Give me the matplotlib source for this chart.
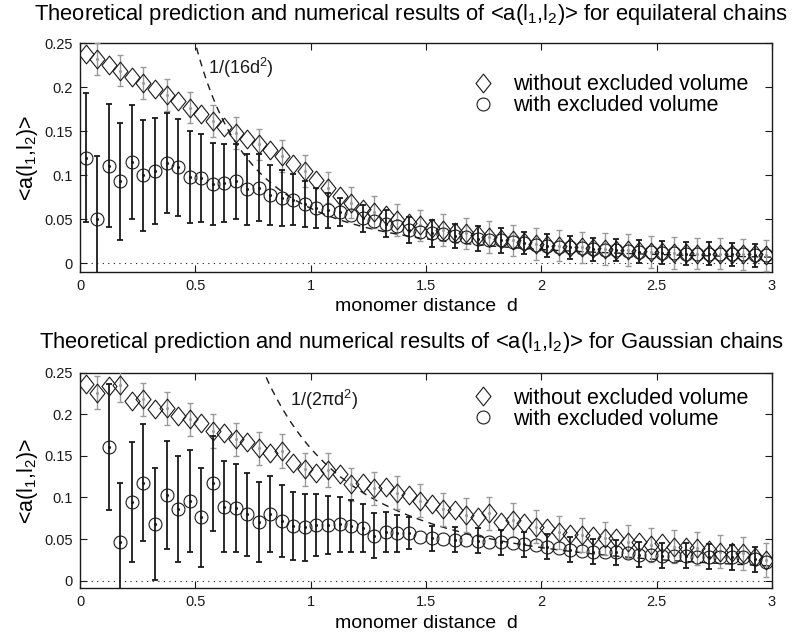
import numpy as np
import matplotlib
matplotlib.use('Agg')
import matplotlib.pyplot as plt
from matplotlib.path import Path
from matplotlib.lines import Line2D

plt.rcParams['font.family'] = ['Liberation Sans', 'DejaVu Sans']
plt.rcParams['mathtext.fontset'] = 'custom'
plt.rcParams['mathtext.rm'] = 'Liberation Sans'
plt.rcParams['mathtext.it'] = 'Liberation Sans:italic'
plt.rcParams['mathtext.default'] = 'regular'

# ---------------- data ----------------
d = np.round(np.arange(60) * 0.05 + 0.025, 3)   # monomer distance grid

# equilateral chains
eq_without = [0.238, 0.232, 0.225, 0.219, 0.212, 0.205, 0.198, 0.191, 0.184, 0.177,
              0.170, 0.162, 0.155, 0.148, 0.141, 0.135, 0.129, 0.122, 0.113, 0.105,
              0.095, 0.086, 0.077, 0.069, 0.062, 0.058, 0.055, 0.049, 0.046, 0.043,
              0.040, 0.038, 0.036, 0.034, 0.032, 0.030, 0.028, 0.026, 0.024, 0.022,
              0.021, 0.020, 0.019, 0.018, 0.017, 0.016, 0.015, 0.015, 0.014, 0.013,
              0.013, 0.012, 0.012, 0.011, 0.011, 0.011, 0.010, 0.010, 0.010, 0.009]
eq_without_err = [0.018] * 60
eq_with = [0.120, 0.050, 0.111, 0.093, 0.115, 0.100, 0.105, 0.114, 0.109, 0.098,
           0.097, 0.090, 0.091, 0.093, 0.084, 0.086, 0.078, 0.074, 0.072, 0.067,
           0.063, 0.060, 0.058, 0.055, 0.051, 0.048, 0.045, 0.042, 0.038, 0.036,
           0.034, 0.033, 0.031, 0.030, 0.028, 0.027, 0.026, 0.024, 0.023, 0.021,
           0.020, 0.019, 0.018, 0.017, 0.016, 0.015, 0.015, 0.014, 0.013, 0.013,
           0.012, 0.012, 0.011, 0.011, 0.011, 0.010, 0.010, 0.010, 0.009, 0.009]
eq_with_err = [0.073, 0.072, 0.070, 0.067, 0.065, 0.063, 0.060, 0.057, 0.055, 0.052,
               0.050, 0.047, 0.044, 0.043, 0.040, 0.038, 0.034, 0.032, 0.029, 0.026,
               0.023, 0.020, 0.016, 0.015, 0.015, 0.015, 0.015, 0.015, 0.015, 0.015,
               0.015, 0.014, 0.014, 0.014, 0.014, 0.014, 0.014, 0.014, 0.013, 0.013,
               0.013, 0.013, 0.013, 0.013, 0.013, 0.013, 0.013, 0.013, 0.013, 0.013,
               0.013, 0.013, 0.013, 0.013, 0.013, 0.013, 0.013, 0.013, 0.013, 0.013]

# Gaussian chains
ga_without = [0.236, 0.226, 0.234, 0.235, 0.216, 0.218, 0.206, 0.207, 0.198, 0.194,
              0.190, 0.180, 0.178, 0.170, 0.167, 0.159, 0.153, 0.156, 0.141, 0.134,
              0.130, 0.133, 0.128, 0.116, 0.118, 0.111, 0.113, 0.106, 0.103, 0.096,
              0.092, 0.086, 0.085, 0.079, 0.077, 0.081, 0.071, 0.073, 0.069, 0.065,
              0.063, 0.058, 0.056, 0.055, 0.054, 0.051, 0.051, 0.047, 0.047, 0.043,
              0.045, 0.041, 0.041, 0.039, 0.037, 0.035, 0.035, 0.033, 0.029, 0.025]
ga_without_err = [0.020] * 60
ga_with = [np.nan, np.nan, 0.161, 0.047, 0.095, 0.118, 0.068, 0.103, 0.086, 0.096,
           0.076, 0.117, 0.089, 0.087, 0.080, 0.071, 0.080, 0.072, 0.066, 0.064,
           0.067, 0.067, 0.068, 0.066, 0.063, 0.054, 0.059, 0.057, 0.057, 0.052,
           0.051, 0.050, 0.049, 0.049, 0.048, 0.047, 0.046, 0.045, 0.044, 0.043,
           0.041, 0.039, 0.037, 0.036, 0.035, 0.035, 0.034, 0.033, 0.031, 0.031,
           0.030, 0.030, 0.030, 0.029, 0.029, 0.029, 0.028, 0.028, 0.026, 0.023]
ga_with_err = [np.nan, np.nan, 0.076, 0.070, 0.072, 0.070, 0.067, 0.065, 0.064, 0.061,
               0.059, 0.057, 0.055, 0.053, 0.050, 0.048, 0.046, 0.043, 0.041, 0.040,
               0.037, 0.035, 0.033, 0.031, 0.029, 0.027, 0.024, 0.022, 0.019, 0.017,
               0.015, 0.015, 0.015, 0.015, 0.015, 0.015, 0.015, 0.015, 0.015, 0.015,
               0.015, 0.015, 0.015, 0.015, 0.015, 0.015, 0.015, 0.015, 0.015, 0.015,
               0.015, 0.015, 0.015, 0.015, 0.015, 0.015, 0.015, 0.015, 0.015, 0.015]

x_ticks = [0, 0.5, 1, 1.5, 2, 2.5, 3]
x_ticklabels = ['0', '0.5', '1', '1.5', '2', '2.5', '3']
y_ticks = [0, 0.05, 0.1, 0.15, 0.2, 0.25]
y_ticklabels = ['0', '0.05', '0.1', '0.15', '0.2', '0.25']

titles = [r'Theoretical prediction and numerical results of <a(l$_1$,l$_2$)> for equilateral chains',
          r'Theoretical prediction and numerical results of <a(l$_1$,l$_2$)> for Gaussian chains']
theory_labels = [r'1/(16d$^2$)', r'1/(2πd$^2$)']
theory_coef = [16.0, 2 * np.pi]
legend_labels = ['without excluded volume', 'with excluded volume']

# ---------------- styling ----------------
diamond = Path([(0, 1), (0.8, 0), (0, -1), (-0.8, 0), (0, 1)],
               [Path.MOVETO, Path.LINETO, Path.LINETO, Path.LINETO, Path.CLOSEPOLY])
BLACK = '#1a1a1a'
GRAY = '#9a9a9a'
DMS = 13.5   # diamond marker size
CMS = 9.3    # circle marker size

fig = plt.figure(figsize=(7.94, 6.39), dpi=100)
ax1 = fig.add_axes([0.1008, 0.5748, 0.8715, 0.3574])
ax2 = fig.add_axes([0.1008, 0.0793, 0.8715, 0.3374])

d_arr = np.asarray(d)
idx = np.arange(60)
mask_gray = (idx % 2 == 1)
mask_black_eq = (idx <= 22) | ((idx % 2 == 0) & (idx >= 24))
mask_black_ga = (idx <= 28) | ((idx % 2 == 0) & (idx >= 30))

panels = [
    (ax1, eq_without, eq_without_err, eq_with, eq_with_err, mask_black_eq, (0.555, 0.215), (0.567, 0.865), -0.0096),
    (ax2, ga_without, ga_without_err, ga_with, ga_with_err, mask_black_ga, (0.91, 0.21), (0.567, 0.93), -0.0092),
]

for i, (ax, yw, ywe, yx, yxe, mblack, tpos, lpos, ymin) in enumerate(panels):
    yw = np.asarray(yw); ywe = np.asarray(ywe)
    yx = np.asarray(yx); yxe = np.asarray(yxe)

    ax.axhline(0, color=BLACK, lw=0.8, ls=(0, (1, 4)), zorder=1)
    dd = np.linspace(0.3, 3, 400)
    ax.plot(dd, 1.0 / (theory_coef[i] * dd ** 2), color=BLACK, lw=1.0,
            ls=(0, (5, 4)), zorder=2)
    ax.errorbar(d_arr[mask_gray], yw[mask_gray], yerr=ywe[mask_gray], fmt='.',
                ms=2.5, color=GRAY, ecolor=GRAY, elinewidth=1.0, capsize=2.4,
                capthick=1.0, zorder=3)
    ax.errorbar(d_arr[mblack], yx[mblack], yerr=yxe[mblack], fmt='.',
                ms=2.5, color=BLACK, ecolor=BLACK, elinewidth=1.3, capsize=2.2,
                capthick=1.3, zorder=4)
    ax.plot(d_arr, yw, ls='none', marker=diamond, ms=DMS, mfc='none', mec=BLACK,
            mew=0.8, zorder=5)
    ax.plot(d_arr, yx, ls='none', marker='o', ms=CMS, mfc='none', mec=BLACK,
            mew=0.8, zorder=5)

    ax.text(tpos[0], tpos[1], theory_labels[i], fontsize=13, color=BLACK)

    handles = [Line2D([], [], ls='none', marker=diamond, ms=DMS, mfc='none', mec=BLACK, mew=0.8),
               Line2D([], [], ls='none', marker='o', ms=CMS, mfc='none', mec=BLACK, mew=0.8)]
    ax.legend(handles, legend_labels, loc='upper left', bbox_to_anchor=lpos,
              frameon=False, fontsize=15.5, borderpad=0, borderaxespad=0,
              labelspacing=0.0, handlelength=1.0, handletextpad=0.9)

    ax.set_xlim(0, 3)
    ax.set_ylim(ymin, 0.25)
    ax.set_xticks(x_ticks)
    ax.set_xticklabels(x_ticklabels)
    ax.set_yticks(y_ticks)
    ax.set_yticklabels(y_ticklabels)
    ax.tick_params(direction='in', length=5, width=0.8, top=True, right=True,
                   labelsize=10.5, pad=5, colors=BLACK)
    for s in ax.spines.values():
        s.set_linewidth(1.0)
        s.set_color(BLACK)
    ax.set_xlabel('monomer distance  d', fontsize=14, labelpad=4)
    ax.set_ylabel(r'<a(l$_1$,l$_2$)>', fontsize=15.5, labelpad=3)

fig.text(0.518, 1 - 20 / 639, titles[0], ha='center', va='baseline', fontsize=15.8)
fig.text(0.518, 1 - 348 / 639, titles[1], ha='center', va='baseline', fontsize=15.8)

fig.savefig('out.png', dpi=100)
